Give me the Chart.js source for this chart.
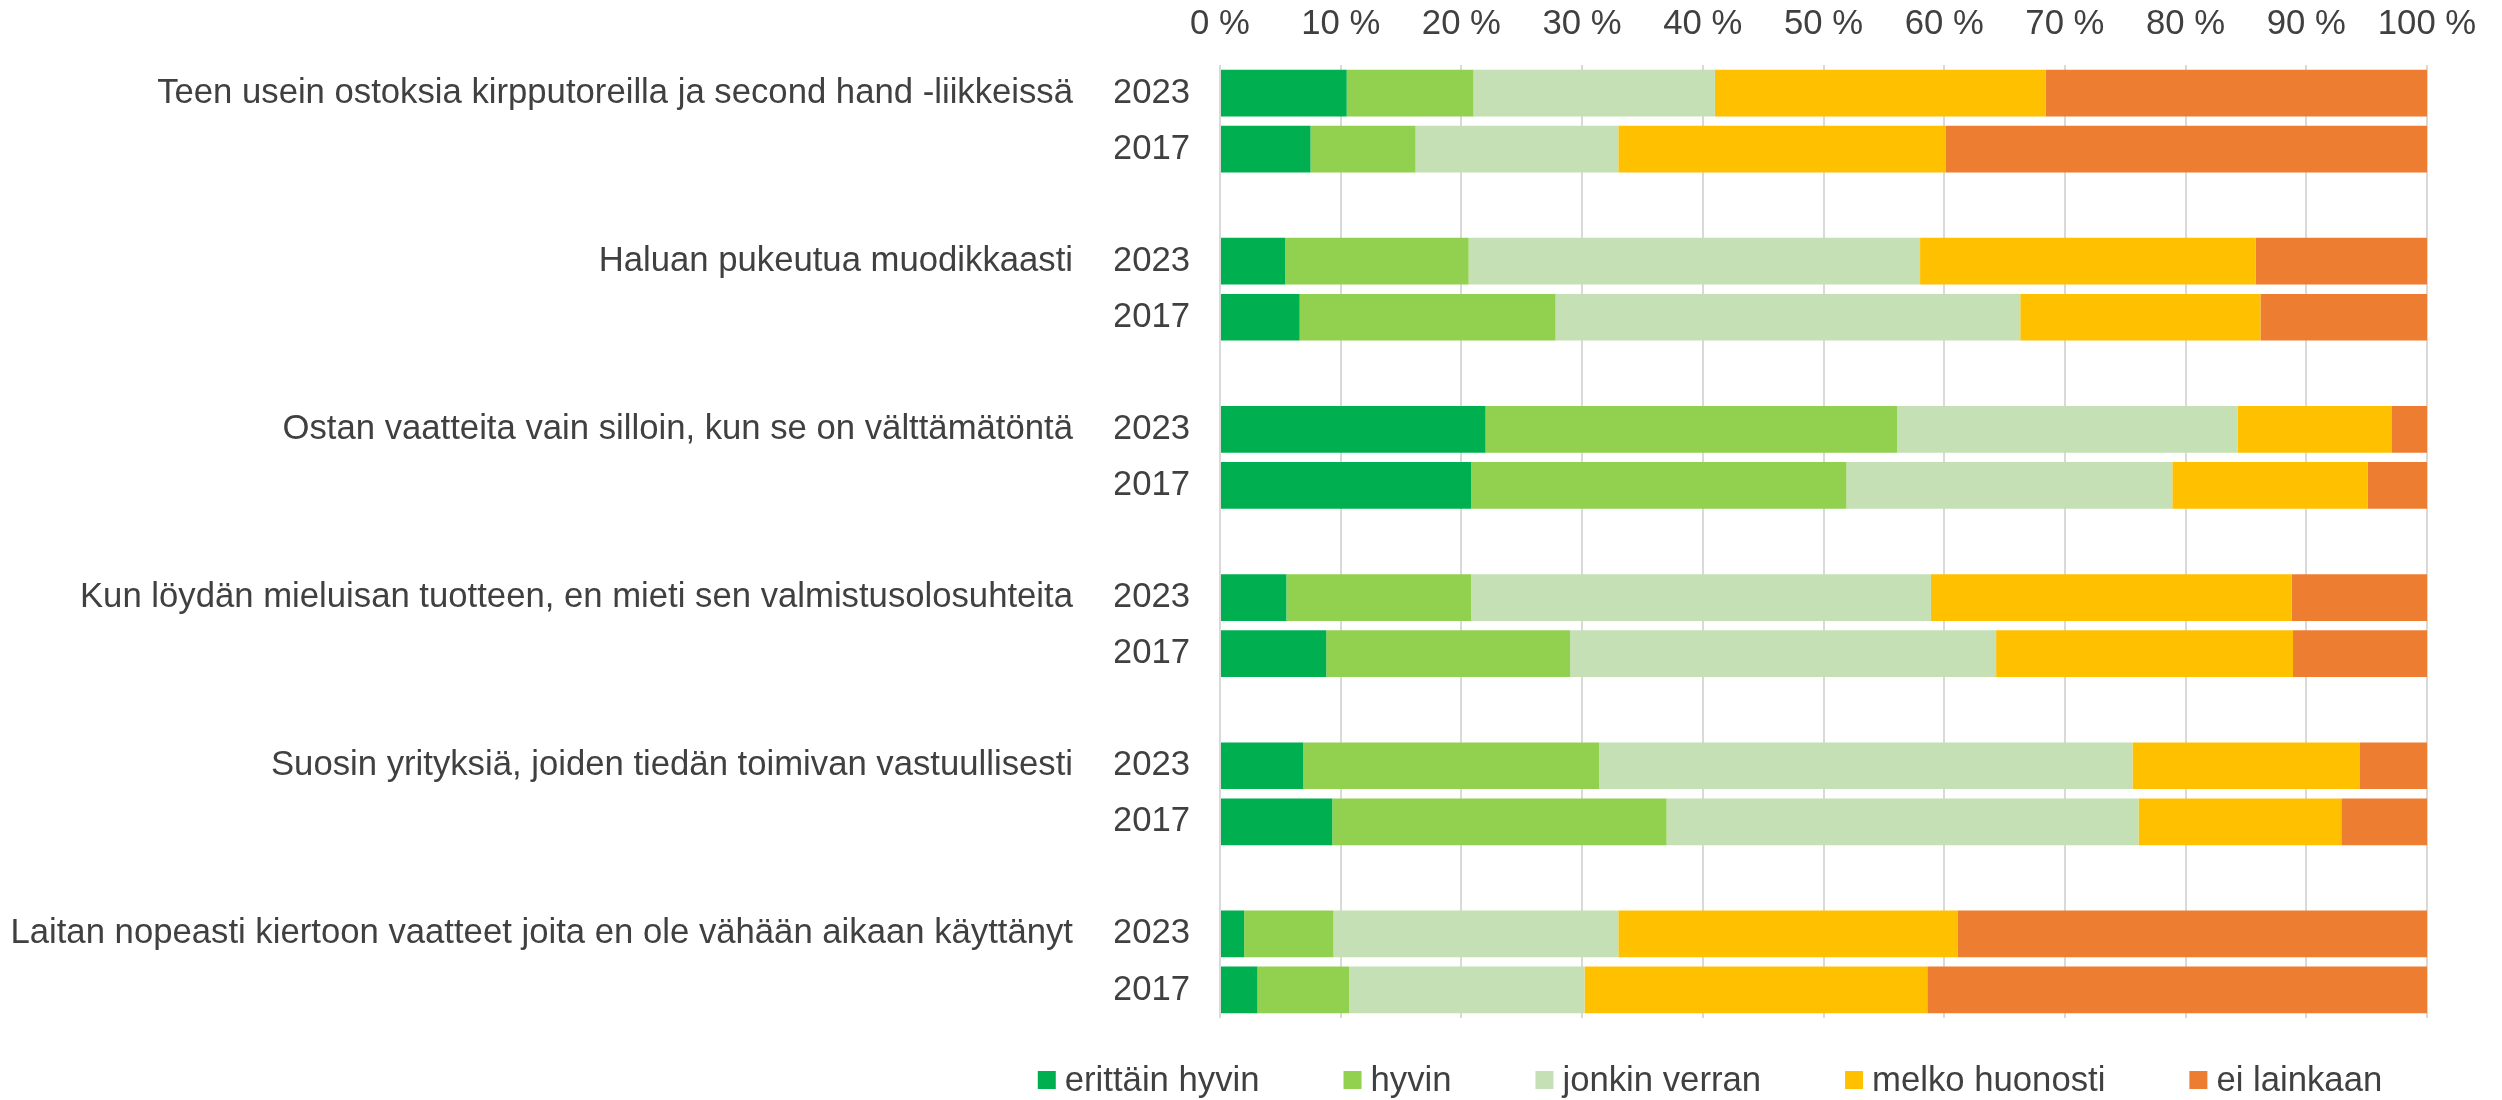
<!DOCTYPE html>
<html><head><meta charset="utf-8">
<script src="https://cdn.jsdelivr.net/npm/chart.js@4.4.1/dist/chart.umd.min.js"></script>
<style>html,body{margin:0;padding:0;background:#fff}#wrap{width:2502px;height:1100px}</style>
</head><body><div id="wrap"><canvas id="c" width="2502" height="1100"></canvas></div>
<script>
const statements = [
  'Teen usein ostoksia kirpputoreilla ja second hand -liikkeissä',
  'Haluan pukeutua muodikkaasti',
  'Ostan vaatteita vain silloin, kun se on välttämätöntä',
  'Kun löydän mieluisan tuotteen, en mieti sen valmistusolosuhteita',
  'Suosin yrityksiä, joiden tiedän toimivan vastuullisesti',
  'Laitan nopeasti kiertoon vaatteet joita en ole vähään aikaan käyttänyt'
];
const years = ['2023', '2017'];
const seriesNames = ['erittäin hyvin', 'hyvin', 'jonkin verran', 'melko huonosti', 'ei lainkaan'];
// values per bar, order: statement1-2023, statement1-2017, statement2-2023, ...
const erittainHyvin = [10.5, 7.5, 5.4, 6.6, 22.0, 20.8, 5.5, 8.8, 6.9, 9.3, 2.0, 3.1];
const hyvin         = [10.5, 8.7, 15.2, 21.2, 34.1, 31.1, 15.3, 20.2, 24.5, 27.7, 7.4, 7.6];
const jonkinVerran  = [20.0, 16.8, 37.4, 38.5, 28.2, 27.0, 38.1, 35.3, 44.2, 39.1, 23.6, 19.5];
const melkoHuonosti = [27.4, 27.1, 27.8, 19.9, 12.8, 16.2, 29.9, 24.6, 18.8, 16.8, 28.1, 28.4];
const eiLainkaan    = [31.6, 39.9, 14.2, 13.8, 2.9, 4.9, 11.2, 11.1, 5.6, 7.1, 38.9, 41.4];
const xTickValues = [0, 10, 20, 30, 40, 50, 60, 70, 80, 90, 100];
const colors = ['#00B050', '#92D050', '#C5E0B4', '#FFC000', '#ED7D31'];

const seriesValues = [erittainHyvin, hyvin, jonkinVerran, melkoHuonosti, eiLainkaan];

// build rows with an empty spacer row between statement groups
const yearLabels = [], statementLabels = [], rowIndex = [];
statements.forEach((s, i) => {
  years.forEach((y, j) => {
    yearLabels.push(y);
    statementLabels.push(j === 0 ? s : '');
    rowIndex.push(i * years.length + j);
  });
  if (i < statements.length - 1) { yearLabels.push(''); statementLabels.push(''); rowIndex.push(null); }
});

const datasets = seriesNames.map((name, k) => ({
  label: name,
  data: rowIndex.map(r => r === null ? null : seriesValues[k][r]),
  backgroundColor: colors[k],
  borderWidth: 0,
  barPercentage: 0.833,
  categoryPercentage: 1.0
}));

Chart.defaults.font.family = '"Liberation Sans", Arial, sans-serif';
Chart.defaults.color = '#404040';

const FONT = 34.7;

const bottomLegend = {
  id: 'bottomLegend',
  afterDraw(chart) {
    const ctx = chart.ctx;
    ctx.save();
    ctx.font = FONT + 'px "Liberation Sans", Arial, sans-serif';
    const box = 18, gapText = 9, gapItem = 84;
    const items = chart.data.datasets.map(d => ({ text: d.label, color: d.backgroundColor, w: ctx.measureText(d.label).width }));
    const total = items.reduce((s, it) => s + box + gapText + it.w, 0) + gapItem * (items.length - 1);
    let x = 1710 - total / 2;
    const y = 1080;
    ctx.textBaseline = 'middle';
    ctx.textAlign = 'left';
    items.forEach(it => {
      ctx.fillStyle = it.color;
      ctx.fillRect(x, y - box / 2, box, box);
      ctx.fillStyle = '#404040';
      ctx.fillText(it.text, x + box + gapText, y + 1);
      x += box + gapText + it.w + gapItem;
    });
    ctx.restore();
  }
};

new Chart(document.getElementById('c'), {
  type: 'bar',
  data: { labels: yearLabels, datasets },
  options: {
    indexAxis: 'y',
    responsive: false,
    animation: false,
    devicePixelRatio: 1,
    layout: { padding: { left: 0, right: 75, top: 0, bottom: 82 } },
    plugins: { legend: { display: false }, tooltip: { enabled: false } },
    scales: {
      x: {
        type: 'linear', position: 'top', stacked: true, min: 0, max: 100,
        afterBuildTicks: (scale) => { scale.ticks = xTickValues.map(v => ({ value: v })); },
        ticks: { callback: v => v + ' %', font: { size: FONT }, color: '#404040', padding: 20, maxRotation: 0 },
        grid: { color: '#d9d9d9', lineWidth: 2, drawTicks: false },
        border: { display: false },
        afterFit: (scale) => { scale.height = 65; }
      },
      y: {
        type: 'category', position: 'left', stacked: true, weight: 0,
        ticks: { font: { size: FONT }, color: '#404040', padding: 30, autoSkip: false },
        grid: { display: false, drawTicks: false },
        border: { display: false },
        afterFit: (scale) => { scale.width = 105; }
      },
      y2: {
        type: 'category', position: 'left', weight: 1, offset: true,
        labels: statementLabels,
        ticks: { font: { size: FONT }, color: '#404040', padding: 42, autoSkip: false },
        grid: { display: false, drawTicks: false },
        border: { display: false },
        afterFit: (scale) => { scale.width = 1115; }
      }
    }
  },
  plugins: [bottomLegend]
});
</script></body></html>
